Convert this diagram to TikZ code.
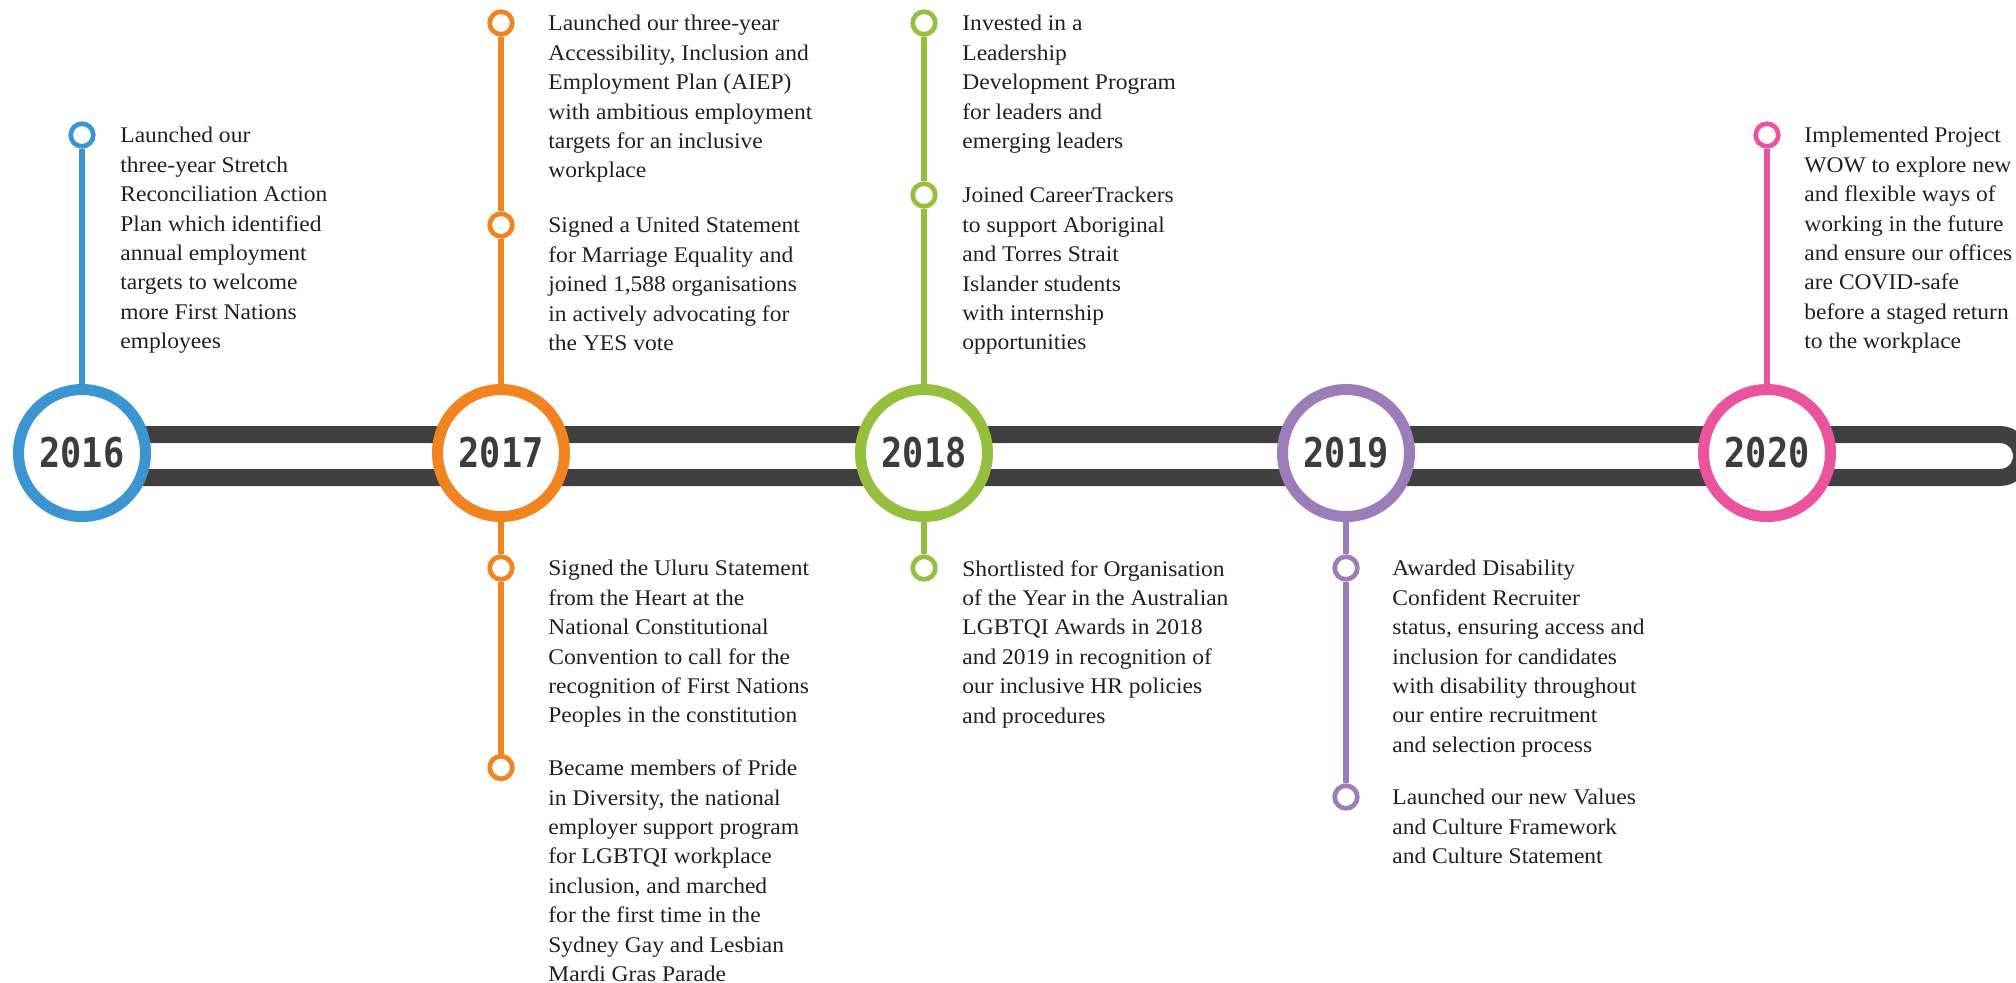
\documentclass[tikz,border=0pt]{standalone}
\usepackage{fontspec}
\setmainfont{Liberation Serif}[FakeStretch=1.05]
\newfontfamily\yearfont{DejaVu Sans Mono}[FakeStretch=0.86]
\usetikzlibrary{calc}
\definecolor{c16}{HTML}{3A95D0}
\definecolor{c17}{HTML}{F28321}
\definecolor{c18}{HTML}{95C03D}
\definecolor{c19}{HTML}{9A7DB9}
\definecolor{c20}{HTML}{EC539F}
\definecolor{bargray}{HTML}{404040}
\definecolor{yeartext}{HTML}{3C3C3C}
\definecolor{txtgray}{HTML}{231F20}
\tikzset{
    yr/.style={draw=#1, circle, line width=5.5pt, fill=white, minimum size=63.5pt, inner sep=0pt,
      text=yeartext, font=\yearfont\bfseries\fontsize{20.5}{20.5}\selectfont},
    dot/.style={draw=#1, circle, line width=2.35pt, fill=white, minimum size=11.3pt, inner sep=0pt},
    stem/.style={draw=#1, line width=3pt},
    txt/.style={anchor=north west, align=left, inner sep=0pt, text=txtgray,
      font=\fontsize{11.2}{14.7}\selectfont}}

\begin{document}
\begin{tikzpicture}[x=0.5pt,y=-0.5pt]
\useasboundingbox (0,0) rectangle (2016,982);
\clip (0,0) rectangle (2016,982);
% bar
\draw[line width=8.5pt, draw=bargray, rounded corners=10.75pt] (60,434.5) rectangle (2021.5,477.5);

% years
\node[yr=c16] (y16) at (82,453) {2016};
\node[yr=c17] (y17) at (501,453) {2017};
\node[yr=c18] (y18) at (924,453) {2018};
\node[yr=c19] (y19) at (1346,453) {2019};
\node[yr=c20] (y20) at (1767,453) {2020};

% markers
\node[dot=c16] (d16) at (82,135) {};
\node[dot=c17] (d17a) at (501,23) {};
\node[dot=c17] (d17b) at (501,225) {};
\node[dot=c17] (d17c) at (501,568) {};
\node[dot=c17] (d17d) at (501,767.5) {};
\node[dot=c18] (d18a) at (924,23) {};
\node[dot=c18] (d18b) at (924,195) {};
\node[dot=c18] (d18c) at (924,568) {};
\node[dot=c19] (d19a) at (1346,568) {};
\node[dot=c19] (d19b) at (1346,797) {};
\node[dot=c20] (d20) at (1767,135) {};

\draw[stem=c16] (d16) -- (y16);
\draw[stem=c17] (d17a) -- (d17b) -- (y17);
\draw[stem=c17] (y17) -- (d17c) -- (d17d);
\draw[stem=c18] (d18a) -- (d18b) -- (y18);
\draw[stem=c18] (y18) -- (d18c);
\draw[stem=c19] (y19) -- (d19a) -- (d19b);
\draw[stem=c20] (d20) -- (y20);

% texts
\node[txt] (t16) at ($(d16)+(38,-8)$) {Launched our\\three-year Stretch\\Reconciliation Action\\Plan which identified\\annual employment\\targets to welcome\\more First Nations\\employees};
\node[txt] (t17a) at ($(d17a)+(47,-8)$) {Launched our three-year\\Accessibility, Inclusion and\\Employment Plan (AIEP)\\with ambitious employment\\targets for an inclusive\\workplace};
\node[txt] (t17b) at ($(d17b)+(47,-8)$) {Signed a United Statement\\for Marriage Equality and\\joined 1,588 organisations\\in actively advocating for\\the YES vote};
\node[txt] (t17c) at ($(d17c)+(47,-8)$) {Signed the Uluru Statement\\from the Heart at the\\National Constitutional\\Convention to call for the\\recognition of First Nations\\Peoples in the constitution};
\node[txt] (t17d) at ($(d17d)+(47,-8)$) {Became members of Pride\\in Diversity, the national\\employer support program\\for LGBTQI workplace\\inclusion, and marched\\for the first time in the\\Sydney Gay and Lesbian\\Mardi Gras Parade};
\node[txt] (t18a) at ($(d18a)+(38,-8)$) {Invested in a\\Leadership\\Development Program\\for leaders and\\emerging leaders};
\node[txt] (t18b) at ($(d18b)+(38,-8)$) {Joined CareerTrackers\\to support Aboriginal\\and Torres Strait\\Islander students\\with internship\\opportunities};
\node[txt] (t18c) at ($(d18c)+(38,-8)$) {Shortlisted for Organisation\\of the Year in the Australian\\LGBTQI Awards in 2018\\and 2019 in recognition of\\our inclusive HR policies\\and procedures};
\node[txt] (t19a) at ($(d19a)+(46,-8)$) {Awarded Disability\\Confident Recruiter\\status, ensuring access and\\inclusion for candidates\\with disability throughout\\our entire recruitment\\and selection process};
\node[txt] (t19b) at ($(d19b)+(46,-8)$) {Launched our new Values\\and Culture Framework\\and Culture Statement};
\node[txt] (t20) at ($(d20)+(37,-8)$) {Implemented Project\\WOW to explore new\\and flexible ways of\\working in the future\\and ensure our offices\\are COVID-safe\\before a staged return\\to the workplace};
\end{tikzpicture}
\end{document}
